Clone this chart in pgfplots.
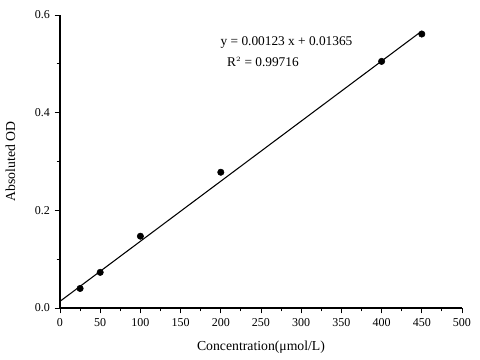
\documentclass[border=0pt]{standalone}
\usepackage{pgfplots}
\pgfplotsset{compat=1.18}
\usepackage{fontspec}
\setmainfont{Liberation Serif}
\begin{document}
\begin{tikzpicture}
\useasboundingbox (-45pt,-39pt) rectangle (315pt,231pt);
\begin{axis}[
  at={(0,0)}, anchor=origin,
  scale only axis, width=301.5pt, height=219.75pt,
  xmin=0, xmax=500, ymin=0, ymax=0.6,
  axis x line*=bottom, axis y line*=left,
  axis line style={line width=0.8pt},
  xtick={0,50,...,500},
  ytick={0,0.2,0.4,0.6},
  minor xtick={25,75,...,475},
  minor ytick={0.1,0.3,0.5},
  tick align=outside,
  major tick length=4pt, minor tick length=2.5pt,
  tick style={line width=0.7pt, black},
  yticklabel style={/pgf/number format/.cd, fixed, fixed zerofill, precision=1},
  /pgf/number format/assume math mode=true,
  ticklabel style={font=\fontsize{9}{10}\selectfont},
  xlabel={Concentration(μmol/L)},
  ylabel={Absoluted OD},
  label style={font=\fontsize{10.3}{12}\selectfont},
  xlabel style={at={(axis description cs:0.5,0)}, anchor=north, yshift=-21pt},
  ylabel style={at={(axis description cs:0,0.5)}, anchor=south, yshift=30pt},
  clip=false,
]
\addplot[only marks, mark=*, mark size=2.4pt, black] coordinates {
  (25,0.040) (50,0.073) (100,0.147) (200,0.278) (400,0.505) (450,0.561)
};
\addplot[black, line width=0.8pt] coordinates {(0,0.01365) (450,0.56715)};
\node[anchor=west, font=\fontsize{10}{11}\selectfont] at (axis cs:194,0.5427) {y = 0.00123 x + 0.01365};
\node[anchor=west, font=\fontsize{10}{11}\selectfont] at (axis cs:202,0.5038) {R$^{\scriptscriptstyle 2}$ = 0.99716};
\end{axis}
\end{tikzpicture}
\end{document}
